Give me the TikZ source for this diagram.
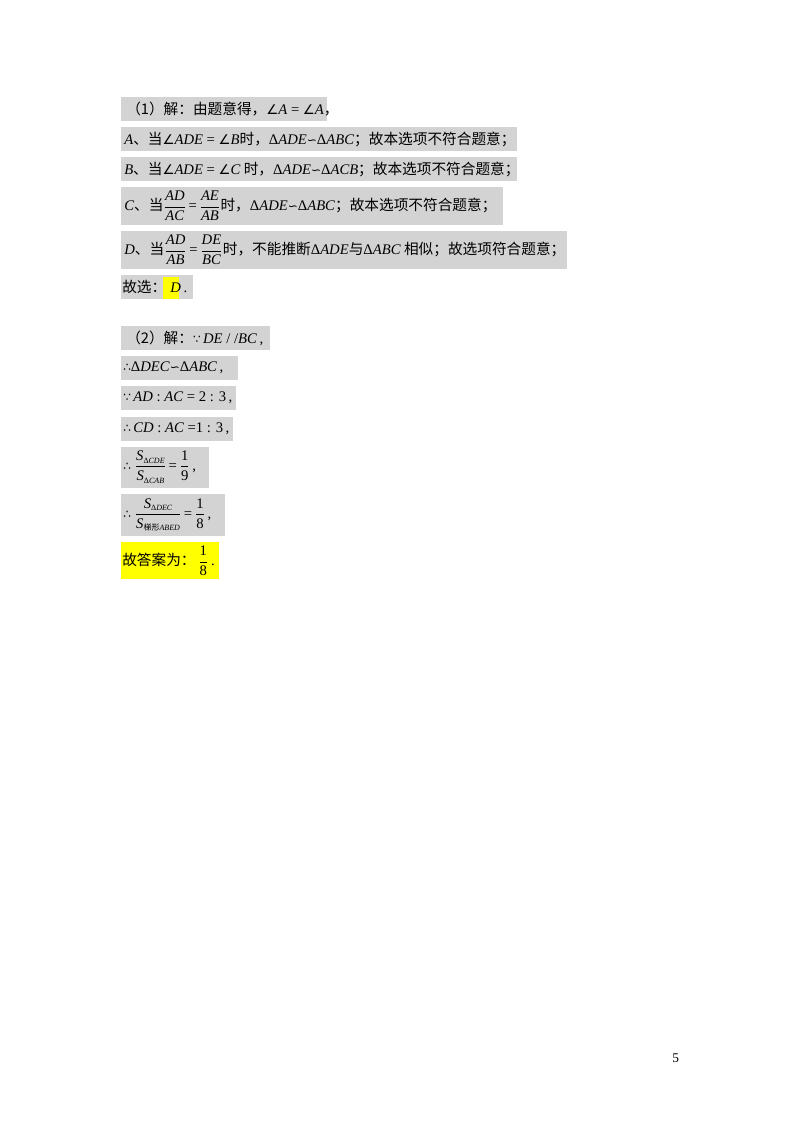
\documentclass[tikz,border=0pt]{standalone}
\usepackage{fontspec}
\setmainfont{Liberation Serif}
\newfontfamily\cjk{Noto Sans CJK SC}
\newfontfamily\sy{DejaVu Sans}
\newcommand{\zh}[1]{{\cjk #1}}
\newcommand{\mi}[1]{\textit{#1}}
\newcommand{\ang}{{\sy\fontsize{10}{10}\selectfont ∠}}
\newcommand{\simi}{{\sy\fontsize{9}{9}\selectfont ∽}}
\newcommand{\tri}{Δ}
\newcommand{\bec}{{\sy\fontsize{9}{9}\selectfont ∵}}
\newcommand{\there}{{\sy\fontsize{9}{9}\selectfont ∴}}
\newcommand{\fr}[2]{$\dfrac{\hbox{#1}}{\hbox{#2}}$}
\usepackage{amsmath}
\definecolor{hl}{RGB}{211,211,211}
\definecolor{yl}{RGB}{255,255,0}
\begin{document}
\begin{tikzpicture}[x=0.75pt,y=-0.75pt,
  hlbox/.style={fill=hl,draw=none},
  ylbox/.style={fill=yl,draw=none},
  txt/.style={anchor=west,inner sep=0pt,font=\fontsize{11}{13}\selectfont}]
\useasboundingbox (0,0) rectangle (800,1132);
\fill[white] (0,0) rectangle (800,1132);
% part 1
\fill[hlbox] (121,97) rectangle (327,121);
\node[txt] (l1) at (126,109) {\zh{（1）解：由题意得，}\ang\mi{A} = \ang\mi{A}\zh{，}};
\fill[hlbox] (121,127) rectangle (517,151);
\node[txt] (l2) at (124,139) {\mi{A}\zh{、当}\ang\mi{ADE} = \ang\mi{B}\zh{时，}\tri\mi{ADE}\simi\tri\mi{ABC}\zh{；故本选项不符合题意；}};
\fill[hlbox] (121,157) rectangle (517,181);
\node[txt] (l3) at (124,169) {\mi{B}\zh{、当}\ang\mi{ADE} = \ang\mi{C}\zh{ 时，}\tri\mi{ADE}\simi\tri\mi{ACB}\zh{；故本选项不符合题意；}};
\fill[hlbox] (121,187) rectangle (503,225);
\node[txt] (l4) at (124,206) {\mi{C}\zh{、当}\fr{\mi{AD}}{\mi{AC}}\,=\,\fr{\mi{AE}}{\mi{AB}}\zh{时，}\tri\mi{ADE}\simi\tri\mi{ABC}\zh{；故本选项不符合题意；}};
\fill[hlbox] (121,231) rectangle (567,269);
\node[txt] (l5) at (124,250) {\mi{D}\zh{、当}\fr{\mi{AD}}{\mi{AB}}\,=\,\fr{\mi{DE}}{\mi{BC}}\zh{时，不能推断}\tri\mi{ADE}\zh{与}\tri\mi{ABC}\zh{ 相似；故选项符合题意；}};
\fill[hlbox] (121,275) rectangle (193,299);
\fill[ylbox] (163,277) rectangle (179,299);
\node[txt] (l6) at (122,287) {\zh{故选：}\hspace{3pt}\mi{D}\hspace{2pt}.};
% part 2
\fill[hlbox] (121,326) rectangle (270,350);
\node[txt] (m1) at (126,338) {\zh{（2）解：}\bec\,\mi{DE} / /\mi{BC}\,,};
\fill[hlbox] (121,356) rectangle (238,380);
\node[txt] (m2) at (123,368) {\there\tri\mi{DEC}\simi\tri\mi{ABC}\,,};
\fill[hlbox] (121,386) rectangle (236,410);
\node[txt] (m3) at (123,398) {\bec\,\mi{AD} : \mi{AC} = 2 : 3\,,};
\fill[hlbox] (121,417) rectangle (233,441);
\node[txt] (m4) at (123,429) {\there\,\mi{CD} : \mi{AC} =1 : 3\,,};
\fill[hlbox] (121,447) rectangle (209,488);
\node[txt] (m5) at (123,467) {\there\ \fr{\mi{S}\raisebox{-2pt}{\fontsize{6}{6}\selectfont Δ\mi{CDE}}}{\mi{S}\raisebox{-2pt}{\fontsize{6}{6}\selectfont Δ\mi{CAB}}}\,=\,\fr{1}{9}\,,};
\fill[hlbox] (121,494) rectangle (225,536);
\node[txt] (m6) at (123,515) {\there\ \fr{\mi{S}\raisebox{-2pt}{\fontsize{6}{6}\selectfont Δ\mi{DEC}}}{\mi{S}\raisebox{-2pt}{\fontsize{6}{6}\selectfont \zh{梯形}\mi{ABED}}}\,=\,\fr{1}{8}\,,};
\fill[ylbox] (121,542) rectangle (219,579);
\node[txt] (m7) at (122,561) {\zh{故答案为：}\,\fr{1}{8}\,.};
\node[txt,font=\fontsize{10}{12}\selectfont] (pg) at (672,1058) {5};
\end{tikzpicture}
\end{document}
